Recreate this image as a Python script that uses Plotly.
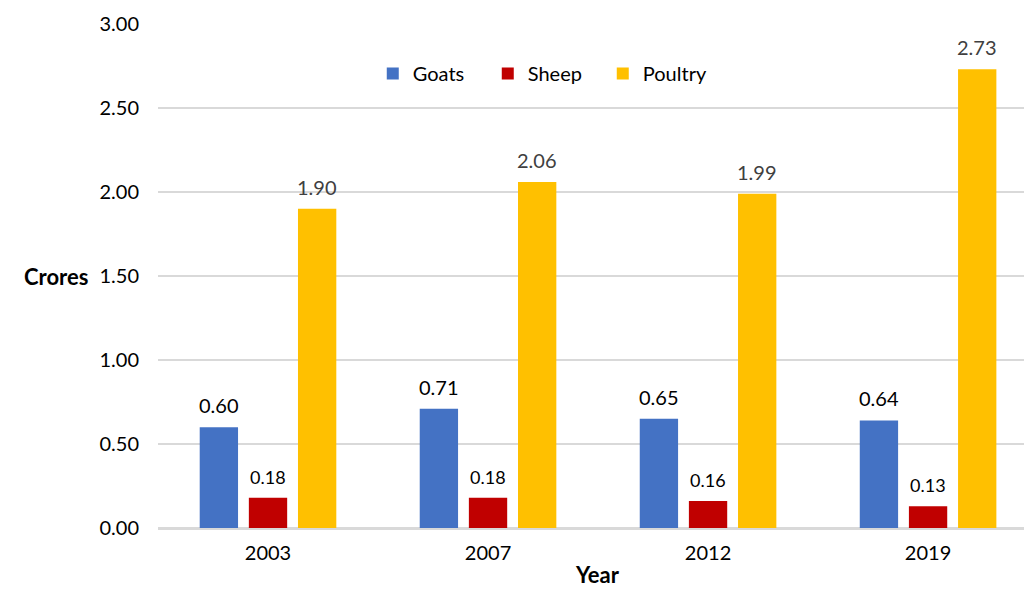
import plotly.graph_objects as go

years = ["2003", "2007", "2012", "2019"]
goats = [0.60, 0.71, 0.65, 0.64]
sheep = [0.18, 0.18, 0.16, 0.13]
poultry = [1.90, 2.06, 1.99, 2.73]
y_ticks = [0, 0.5, 1.0, 1.5, 2.0, 2.5, 3.0]

series = [
    ("Goats", goats, "#4472C4", "#000000", 20),
    ("Sheep", sheep, "#C00000", "#000000", 18),
    ("Poultry", poultry, "#FFC000", "#404040", 20),
]

FONT = "Lato, 'Open Sans', sans-serif"
bargap = 0.33
bargroupgap = 0.22

fig = go.Figure()
for name, vals, color, _, _ in series:
    fig.add_trace(go.Bar(name=name, x=years, y=vals, marker_color=color,
                         marker_line_width=0))

slot = (1 - bargap) / len(series)
annotations = []
for si, (name, vals, color, tcolor, tsize) in enumerate(series):
    off = (si - (len(series) - 1) / 2) * slot
    for ci, v in enumerate(vals):
        annotations.append(dict(
            x=ci + off, y=v, xref="x", yref="y", text=f"{v:.2f}",
            showarrow=False, yanchor="bottom", yshift=8,
            font=dict(family=FONT, size=tsize, color=tcolor)))

annotations.append(dict(x=0, y=1.5, xref="paper", yref="y", xanchor="right",
                        xshift=-68, text="<b>Crores</b>", showarrow=False,
                        font=dict(family=FONT, size=22, color="#000000")))
annotations.append(dict(x=0.5, y=0, xref="paper", yref="paper",
                        yanchor="top", yshift=-31, xshift=6,
                        text="<b>Year</b>", showarrow=False,
                        font=dict(family=FONT, size=22, color="#000000")))

fig.update_layout(
    width=1024, height=590,
    margin=dict(l=158, r=0, t=24, b=62),
    paper_bgcolor="white", plot_bgcolor="white",
    barmode="group", bargap=bargap, bargroupgap=bargroupgap,
    font=dict(family=FONT, size=20, color="#000000"),
    legend=dict(orientation="h", x=0.248, y=0.902, xanchor="left", yanchor="middle",
                font=dict(size=20, color="#000000"), itemwidth=30,
                entrywidth=70, entrywidthmode="pixels",
                bgcolor="rgba(0,0,0,0)"),
    annotations=annotations,
    xaxis=dict(range=[-0.5, 3.436], showgrid=False, showline=True,
               linecolor="#d9d9d9", linewidth=1.5,
               ticks="outside", ticklen=6, tickcolor="rgba(0,0,0,0)",
               tickfont=dict(size=20)),
    yaxis=dict(range=[0, 3.0], tickvals=y_ticks, tickformat=".2f",
               showgrid=True, gridcolor="#d9d9d9", gridwidth=1.5,
               zeroline=True, zerolinecolor="#d9d9d9", zerolinewidth=1.5,
               ticks="outside", ticklen=14, tickcolor="rgba(0,0,0,0)",
               tickfont=dict(size=20)),
)

fig.write_html("out.html")
